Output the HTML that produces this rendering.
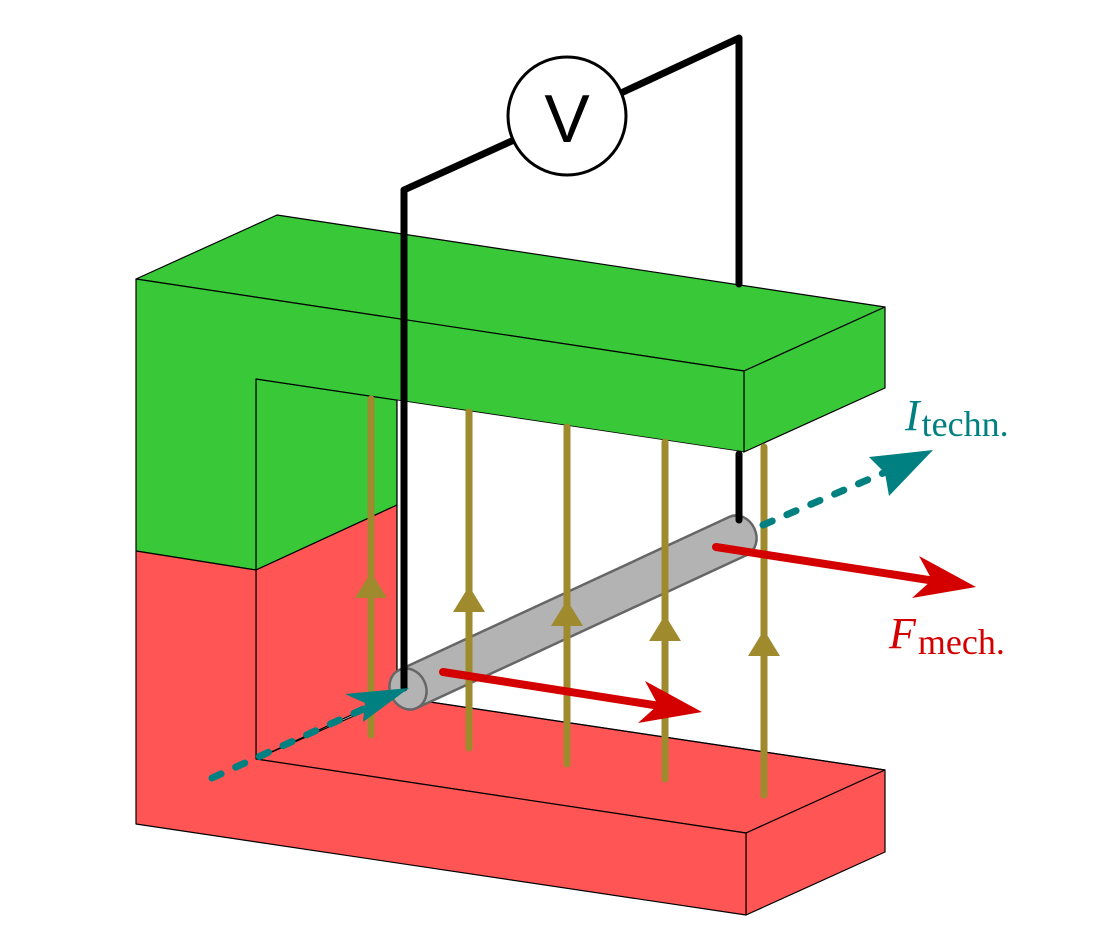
<!DOCTYPE html>
<html><head><meta charset="utf-8"><style>
html,body{margin:0;padding:0;background:#fff;}
svg{display:block;}
</style></head><body>
<svg width="1111" height="951" viewBox="0 0 1111 951" xmlns="http://www.w3.org/2000/svg">
<g stroke="#000" stroke-width="1.2" stroke-linejoin="round">
  <polygon points="256,379 397,400 397,505 256,570" fill="#38c838"/>
  <polygon points="256,570 397,505 397,694 256,759" fill="#ff5555"/>
  <polygon points="256,759 397,697 885,770 746,833" fill="#ff5555"/>
  <polygon points="136,279 277,215 885,307 744,371" fill="#38c838"/>
  <polygon points="744,371 885,307 885,388 744,452" fill="#38c838"/>
  <polygon points="746,833 885,770 885,852 746,915" fill="#ff5555"/>
  <polygon points="136,279 744,371 744,452 256,379 256,570 136,551" fill="#38c838"/>
  <polygon points="136,551 256,570 256,759 746,833 746,915 136,824" fill="#ff5555"/>
</g>
<polygon points="397.6,400.5 743,452 743,520 397.6,694" fill="#fff"/>
<polygon points="397.6,694 743,520 743,528 885,769 397.6,696.5" fill="#fff"/>
<line x1="397" y1="697" x2="885" y2="770" stroke="#000" stroke-width="1.2"/>
<line x1="397" y1="400" x2="397" y2="697" stroke="#000" stroke-width="1.2"/>

<!-- rod -->
<g>
  <ellipse cx="738" cy="536" rx="18" ry="21" fill="#b3b3b3" stroke="#666" stroke-width="2.5" transform="rotate(-25 738 536)"/>
  <polygon points="399.2,670 729.2,517 746.8,555 416.8,708" fill="#b3b3b3"/>
  <line x1="399.2" y1="670" x2="729.2" y2="517" stroke="#666" stroke-width="2.5"/>
  <line x1="416.8" y1="708" x2="746.8" y2="555" stroke="#666" stroke-width="2.5"/>
  <ellipse cx="408" cy="689" rx="18" ry="21" fill="#b3b3b3" stroke="#666" stroke-width="2.5" transform="rotate(-25 408 689)"/>
</g>

<!-- field lines -->
<g stroke="#9f8a2e" stroke-width="7" stroke-linecap="round" fill="#9f8a2e">
  <line x1="371" y1="399" x2="371" y2="735"/>
  <line x1="469" y1="412" x2="469" y2="748"/>
  <line x1="567" y1="427" x2="567" y2="764"/>
  <line x1="665" y1="442" x2="665" y2="779"/>
  <line x1="764" y1="447" x2="764" y2="795"/>
</g>
<g fill="#9f8a2e">
  <polygon points="371,572 355,598 387,598"/>
  <polygon points="469,586 453,612 485,612"/>
  <polygon points="567,600 551,626 583,626"/>
  <polygon points="665,615 649,641 681,641"/>
  <polygon points="764,630 748,656 780,656"/>
</g>

<!-- black wires -->
<g stroke="#000" stroke-width="7" fill="none" stroke-linecap="round" stroke-linejoin="round">
  <polyline points="404,688 404,190 514,140"/>
  <polyline points="621,93 739,38 739,284"/>
  <line x1="739" y1="454" x2="739" y2="520"/>
</g>

<!-- current arrows -->
<g stroke="#008080" stroke-width="7" stroke-linecap="round" stroke-dasharray="10,16" fill="none">
  <line x1="212" y1="778" x2="370" y2="706"/>
  <line x1="763" y1="525" x2="895" y2="468"/>
</g>
<polygon points="409,688 345,694 365,703 363,722" fill="#008080"/>
<polygon points="933,450 869,457 885,473 889,496" fill="#008080"/>

<!-- force arrows -->
<g stroke="#d40000" stroke-width="8" stroke-linecap="round">
  <line x1="443" y1="672" x2="660" y2="706"/>
  <line x1="716" y1="547" x2="935" y2="581"/>
</g>
<polygon points="702,712 645,681 658,705 638,723" fill="#d40000"/>
<polygon points="976,587 919,556 932,580 912,598" fill="#d40000"/>

<!-- voltmeter -->
<g>
  <circle cx="567" cy="116" r="59" fill="#fff" stroke="#000" stroke-width="3"/>
  <text x="567" y="142" text-anchor="middle" font-family="Liberation Sans, sans-serif" font-size="68" fill="#000">V</text>
</g>

<!-- labels -->
<text x="905" y="430" font-family="Liberation Serif, serif" fill="#008080"><tspan font-style="italic" font-size="44">I</tspan><tspan font-size="36" dy="6" dx="2">techn.</tspan></text>
<text x="889" y="648" font-family="Liberation Serif, serif" fill="#d40000"><tspan font-style="italic" font-size="44">F</tspan><tspan font-size="36" dy="6" dx="2">mech.</tspan></text>
</svg>
</body></html>
